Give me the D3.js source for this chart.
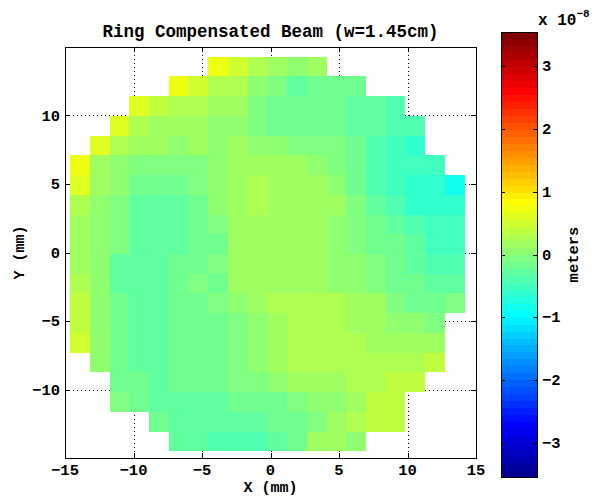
<!DOCTYPE html>
<html>
<head>
<meta charset="utf-8">
<script src="https://cdn.jsdelivr.net/npm/d3@7"></script>
<style>
  html, body { margin: 0; padding: 0; background: #fff; }
  svg text { font-family: "Liberation Mono", "DejaVu Sans Mono", monospace; font-weight: bold; fill: #000; }
</style>
</head>
<body>
<svg id="chart" width="596" height="497"></svg>
<script>
// ---- data (surface height in units of 1e-8 m) ----
const xCenters = [-13.91, -12.47, -11.03, -9.59, -8.15, -6.71, -5.27, -3.83, -2.39, -0.95,
                   0.49, 1.93, 3.37, 4.81, 6.25, 7.69, 9.13, 10.57, 12.01, 13.45];
const yCenters = [13.57, 12.13, 10.69, 9.25, 7.81, 6.37, 4.93, 3.49, 2.05, 0.61,
                  -0.83, -2.27, -3.71, -5.15, -6.59, -8.03, -9.47, -10.91, -12.35, -13.79];
const _ = null;
const values = [
  [_,_,_,_,_,_,_,0.72,0.50,0.28,0.16,0.05,0.16,_,_,_,_,_,_,_],
  [_,_,_,_,_,0.72,0.50,0.28,0.28,0.05,-0.06,-0.28,-0.17,-0.17,-0.17,_,_,_,_,_],
  [_,_,_,0.61,0.39,0.28,0.28,0.16,0.16,-0.06,-0.17,-0.17,-0.17,-0.17,-0.28,-0.28,-0.39,_,_,_],
  [_,_,0.61,0.28,0.16,0.16,0.16,0.05,0.05,-0.06,-0.17,-0.17,-0.17,-0.17,-0.28,-0.28,-0.39,-0.39,_,_],
  [_,0.61,0.28,0.16,0.16,0.05,0.16,0.05,0.16,0.05,0.05,-0.06,-0.06,-0.06,-0.17,-0.39,-0.50,-0.61,_,_],
  [0.72,0.16,0.05,-0.06,-0.06,-0.06,-0.06,0.05,0.16,0.16,0.16,0.16,0.05,-0.06,-0.17,-0.39,-0.50,-0.50,-0.50,_],
  [0.61,0.16,0.05,-0.17,-0.17,-0.17,-0.06,0.05,0.16,0.28,0.16,0.16,0.16,0.05,-0.17,-0.39,-0.50,-0.61,-0.61,-0.83],
  [0.28,0.05,-0.06,-0.28,-0.28,-0.28,-0.17,0.05,0.16,0.28,0.16,0.16,0.16,0.16,-0.06,-0.28,-0.39,-0.61,-0.61,-0.61],
  [0.16,0.05,-0.06,-0.28,-0.28,-0.28,-0.17,-0.06,0.16,0.16,0.16,0.16,0.16,0.05,-0.06,-0.17,-0.28,-0.39,-0.50,-0.50],
  [0.16,0.05,-0.06,-0.28,-0.28,-0.28,-0.17,-0.17,0.16,0.16,0.16,0.16,0.16,0.05,-0.06,-0.17,-0.17,-0.28,-0.50,-0.50],
  [0.16,0.05,-0.28,-0.28,-0.28,-0.17,-0.17,-0.06,0.16,0.16,0.16,0.16,0.16,0.05,0.05,-0.06,-0.17,-0.28,-0.39,-0.39],
  [0.28,0.05,-0.28,-0.28,-0.28,-0.17,-0.06,-0.17,0.16,0.16,0.16,0.16,0.16,0.05,0.05,-0.06,-0.17,-0.17,-0.28,-0.28],
  [0.39,0.05,-0.17,-0.28,-0.28,-0.17,-0.17,-0.06,0.05,0.16,0.28,0.28,0.28,0.28,0.16,0.16,-0.06,-0.17,-0.17,-0.06],
  [0.39,0.05,-0.17,-0.28,-0.28,-0.17,-0.17,-0.17,-0.06,0.05,0.16,0.28,0.28,0.28,0.16,0.16,0.05,0.05,-0.06,_],
  [0.50,0.05,-0.17,-0.28,-0.28,-0.17,-0.17,-0.17,-0.06,0.05,0.16,0.28,0.28,0.28,0.28,0.16,0.16,0.16,0.16,_],
  [_,0.05,-0.17,-0.28,-0.28,-0.17,-0.17,-0.17,-0.06,0.05,0.16,0.28,0.28,0.28,0.28,0.28,0.28,0.28,0.39,_],
  [_,_,-0.17,-0.17,-0.28,-0.17,-0.17,-0.17,-0.06,-0.06,0.05,0.16,0.16,0.16,0.28,0.28,0.39,0.39,_,_],
  [_,_,-0.06,-0.17,-0.28,-0.28,-0.28,-0.28,-0.17,-0.17,-0.17,-0.06,0.05,0.05,0.16,0.39,0.39,_,_,_],
  [_,_,_,_,-0.17,-0.28,-0.28,-0.28,-0.28,-0.28,-0.17,-0.17,-0.06,0.16,0.28,0.39,0.39,_,_,_],
  [_,_,_,_,_,-0.28,-0.28,-0.39,-0.39,-0.39,-0.28,-0.17,0.16,0.16,0.05,_,_,_,_,_]
];
const xTicks = [-15, -10, -5, 0, 5, 10, 15];
const yTicks = [-10, -5, 0, 5, 10];
const cbTicks = [-3, -2, -1, 0, 1, 2, 3];
const colorLimits = [-3.55, 3.55];
const titleText = "Ring Compensated Beam (w=1.45cm)";
const xLabel = "X (mm)";
const yLabel = "Y (mm)";
const cbLabel = "meters";

// ---- MATLAB jet(64) ----
function jet64() {
  const out = [];
  for (let i = 1; i <= 64; i++) {
    let r, g, b;
    if (i <= 24) r = 0; else if (i <= 40) r = (i - 24) / 16; else if (i <= 56) r = 1; else r = 1 - (i - 56) / 16;
    if (i <= 8) g = 0; else if (i <= 24) g = (i - 8) / 16; else if (i <= 40) g = 1; else if (i <= 55) g = 1 - (i - 40) / 16; else g = 0;
    if (i <= 8) b = (i + 8) / 16; else if (i <= 24) b = 1; else if (i <= 39) b = 1 - (i - 24) / 16; else b = 0;
    out.push(d3.rgb(Math.round(r * 255), Math.round(g * 255), Math.round(b * 255)).formatHex());
  }
  return out;
}
const jet = jet64();
const color = d3.scaleQuantize().domain(colorLimits).range(jet);

// ---- layout ----
const svg = d3.select("#chart");
const plot = { left: 65, right: 476, top: 47, bottom: 458 };
const x = d3.scaleLinear().domain([-15, 15]).range([plot.left, plot.right]);
const y = d3.scaleLinear().domain([-15, 15]).range([plot.bottom, plot.top]);
const half = 0.72;
const tickLen = 5;

// grid (drawn below the image)
const grid = svg.append("g").attr("stroke", "#000").attr("stroke-width", 1)
  .attr("stroke-dasharray", "1,3").attr("shape-rendering", "crispEdges");
grid.selectAll(".gx").data(xTicks.filter(t => t > -15 && t < 15)).join("line")
  .attr("x1", d => Math.round(x(d)) + 0.5).attr("x2", d => Math.round(x(d)) + 0.5)
  .attr("y1", plot.top).attr("y2", plot.bottom);
grid.selectAll(".gy").data(yTicks).join("line")
  .attr("y1", d => Math.round(y(d)) + 0.5).attr("y2", d => Math.round(y(d)) + 0.5)
  .attr("x1", plot.left).attr("x2", plot.right);

// cells
const cells = [];
values.forEach((row, j) => row.forEach((v, i) => {
  if (v !== null) cells.push({ xc: xCenters[i], yc: yCenters[j], v });
}));
svg.append("g").attr("shape-rendering", "crispEdges")
  .selectAll("rect").data(cells).join("rect")
  .attr("x", d => Math.round(x(d.xc - half)))
  .attr("y", d => Math.round(y(d.yc + half)))
  .attr("width", d => Math.round(x(d.xc + half)) - Math.round(x(d.xc - half)))
  .attr("height", d => Math.round(y(d.yc - half)) - Math.round(y(d.yc + half)))
  .attr("fill", d => color(d.v));

// axes box + ticks
const axes = svg.append("g").attr("stroke", "#000").attr("stroke-width", 1).attr("shape-rendering", "crispEdges");
axes.append("rect").attr("x", plot.left + 0.5).attr("y", plot.top + 0.5)
  .attr("width", plot.right - plot.left).attr("height", plot.bottom - plot.top).attr("fill", "none");
xTicks.forEach(t => {
  const px = Math.round(x(t)) + 0.5;
  axes.append("line").attr("x1", px).attr("x2", px).attr("y1", plot.bottom).attr("y2", plot.bottom - tickLen);
  axes.append("line").attr("x1", px).attr("x2", px).attr("y1", plot.top).attr("y2", plot.top + tickLen);
});
yTicks.forEach(t => {
  const py = Math.round(y(t)) + 0.5;
  axes.append("line").attr("y1", py).attr("y2", py).attr("x1", plot.left).attr("x2", plot.left + tickLen);
  axes.append("line").attr("y1", py).attr("y2", py).attr("x1", plot.right).attr("x2", plot.right - tickLen);
});

const fmt = d => (d < 0 ? "\u2212" + Math.abs(d) : String(d));
svg.append("g").selectAll("text").data(xTicks).join("text")
  .attr("x", d => x(d)).attr("y", 475).attr("text-anchor", "middle")
  .attr("font-size", 15.5).text(fmt);
svg.append("g").selectAll("text").data(yTicks).join("text")
  .attr("x", 60).attr("y", d => y(d) + 5).attr("text-anchor", "end")
  .attr("font-size", 15.5).text(fmt);

svg.append("text").attr("x", x(0)).attr("y", 37).attr("text-anchor", "middle")
  .attr("font-size", 17.5).text(titleText);
svg.append("text").attr("x", x(0)).attr("y", 492).attr("text-anchor", "middle")
  .attr("font-size", 15).text(xLabel);
svg.append("text").attr("transform", `translate(24, ${y(0)}) rotate(-90)`)
  .attr("text-anchor", "middle").attr("font-size", 15).text(yLabel);

// ---- colorbar ----
const cb = { left: 501, right: 537, top: 32, bottom: 477 };
const cy = d3.scaleLinear().domain(colorLimits).range([cb.bottom, cb.top]);
const step = (colorLimits[1] - colorLimits[0]) / jet.length;
svg.append("g").attr("shape-rendering", "crispEdges")
  .selectAll("rect").data(jet).join("rect")
  .attr("x", cb.left).attr("width", cb.right - cb.left)
  .attr("y", (d, i) => cy(colorLimits[0] + (i + 1) * step))
  .attr("height", (d, i) => cy(colorLimits[0] + i * step) - cy(colorLimits[0] + (i + 1) * step) + 0.6)
  .attr("fill", d => d);
const cba = svg.append("g").attr("stroke", "#000").attr("stroke-width", 1).attr("shape-rendering", "crispEdges");
cba.append("rect").attr("x", cb.left + 0.5).attr("y", cb.top + 0.5)
  .attr("width", cb.right - cb.left).attr("height", cb.bottom - cb.top).attr("fill", "none");
cbTicks.forEach(t => {
  const py = Math.round(cy(t)) + 0.5;
  cba.append("line").attr("y1", py).attr("y2", py).attr("x1", cb.left).attr("x2", cb.left + 4);
  cba.append("line").attr("y1", py).attr("y2", py).attr("x1", cb.right).attr("x2", cb.right - 4);
});
svg.append("g").selectAll("text").data(cbTicks).join("text")
  .attr("x", 542).attr("y", d => cy(d) + 5).attr("font-size", 15.5).text(fmt);

const exp = svg.append("text").attr("x", 538).attr("y", 25).attr("font-size", 16);
exp.append("tspan").text("x 10");
exp.append("tspan").attr("dy", -8).attr("font-size", 11).text("\u22128");

svg.append("text").attr("transform", `translate(578, ${cy(0)}) rotate(-90)`)
  .attr("text-anchor", "middle").attr("font-size", 15.5).text(cbLabel);
</script>
</body>
</html>
